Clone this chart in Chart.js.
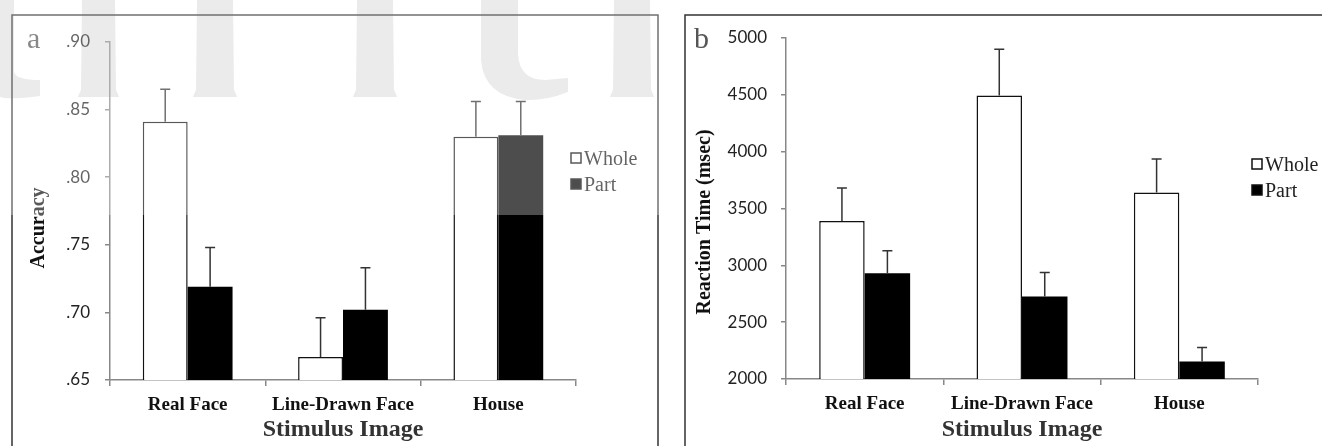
<!DOCTYPE html>
<html>
<head>
<meta charset="utf-8">
<script src="https://cdn.jsdelivr.net/npm/chart.js@4.4.1/dist/chart.umd.min.js"></script>
<style>
  body { margin: 0; background: #fff; }
  #panelA { position: absolute; left: 0; top: 0; }
  #panelB { position: absolute; left: 662px; top: 0; }
</style>
</head>
<body>
<canvas id="panelA" width="662" height="446"></canvas>
<canvas id="panelB" width="660" height="446"></canvas>
<script>
// stimulus categories and the two conditions
var categories = ['Real Face', 'Line-Drawn Face', 'House'];
var seriesNames = ['Whole', 'Part'];

// panel a: accuracy (mean + error)
var accWhole = [0.841, 0.667, 0.830];
var accWholeErr = [0.024, 0.029, 0.026];
var accPart = [0.719, 0.702, 0.831];
var accPartErr = [0.029, 0.031, 0.025];
var accMin = 0.65, accMax = 0.90, accStep = 0.05;

// panel b: reaction time in msec
var rtWhole = [3390, 4495, 3640];
var rtWholeErr = [290, 405, 296];
var rtPart = [2930, 2725, 2155];
var rtPartErr = [198, 213, 123];
var rtMin = 2000, rtMax = 5000, rtStep = 500;

var serif = '"Liberation Serif", "Times New Roman", serif';
var sans = 'Lato, "Open Sans", sans-serif';

// light watermark strokes seen over the top of panel a
function drawWatermark(ctx) {
  ctx.fillStyle = '#e2e2e2';
  ctx.beginPath();
  ctx.moveTo(0, 0); ctx.lineTo(14, 0); ctx.lineTo(14, 72);
  ctx.quadraticCurveTo(16, 80, 40, 80); ctx.lineTo(40, 96);
  ctx.quadraticCurveTo(10, 100, 0, 97); ctx.closePath(); ctx.fill();
  [[80, 117], [195, 235], [355, 395], [612, 652]].forEach(function(s) {
    ctx.beginPath();
    ctx.moveTo(s[0] + 2, 0); ctx.lineTo(s[1] - 2, 0); ctx.lineTo(s[1] - 1, 90);
    ctx.quadraticCurveTo(s[1] + 2, 96, s[1] + 2, 97);
    ctx.lineTo(s[0] - 2, 97); ctx.quadraticCurveTo(s[0] - 2, 96, s[0] + 1, 90);
    ctx.closePath(); ctx.fill();
  });
  ctx.beginPath();
  ctx.moveTo(481, 0); ctx.lineTo(518, 0); ctx.lineTo(518, 55);
  ctx.quadraticCurveTo(520, 80, 545, 80); ctx.lineTo(568, 78);
  ctx.lineTo(568, 92); ctx.quadraticCurveTo(545, 101, 525, 100);
  ctx.quadraticCurveTo(484, 96, 481, 60); ctx.closePath(); ctx.fill();
}

var panelDecor = {
  id: 'panelDecor',
  beforeDraw: function(chart, args, o) {
    var ctx = chart.ctx;
    ctx.save();
    if (o.watermark) drawWatermark(ctx);
    ctx.strokeStyle = '#333';
    ctx.lineWidth = 1.5;
    ctx.strokeRect(o.frame[0], o.frame[1], o.frame[2], o.frame[3]);
    ctx.fillStyle = '#555';
    ctx.font = '30px ' + serif;
    ctx.textBaseline = 'alphabetic';
    ctx.fillText(o.letter, o.letterPos[0], o.letterPos[1]);
    ctx.translate(o.titlePos[0], o.titlePos[1]);
    ctx.rotate(-Math.PI / 2);
    ctx.fillStyle = '#111';
    ctx.font = 'bold 20px ' + serif;
    ctx.textAlign = 'center';
    ctx.textBaseline = 'middle';
    ctx.fillText(o.title, 0, 0);
    ctx.restore();
  },
  afterDraw: function(chart, args, o) {
    if (!o.watermark) return;
    var ctx = chart.ctx;
    ctx.save();
    ctx.fillStyle = 'rgba(255,255,255,0.3)';
    ctx.fillRect(0, 0, chart.width, 215);
    ctx.restore();
  }
};

var errorBars = {
  id: 'errorBars',
  afterDatasetsDraw: function(chart) {
    var ctx = chart.ctx, yScale = chart.scales.y;
    ctx.save();
    ctx.strokeStyle = '#333';
    ctx.lineWidth = 1.5;
    chart.data.datasets.forEach(function(ds, di) {
      chart.getDatasetMeta(di).data.forEach(function(bar, i) {
        var top = yScale.getPixelForValue(ds.data[i] + ds.errors[i]);
        ctx.beginPath();
        ctx.moveTo(bar.x, bar.y);
        ctx.lineTo(bar.x, top);
        ctx.moveTo(bar.x - 5, top);
        ctx.lineTo(bar.x + 5, top);
        ctx.stroke();
      });
    });
    ctx.restore();
  }
};

var keyBox = {
  id: 'keyBox',
  afterDatasetsDraw: function(chart, args, o) {
    var ctx = chart.ctx;
    ctx.save();
    ctx.font = '20px ' + serif;
    ctx.textBaseline = 'alphabetic';
    chart.data.datasets.forEach(function(ds, i) {
      var y = o.y + i * 26;
      ctx.fillStyle = ds.backgroundColor;
      ctx.fillRect(o.x, y, 10, 10);
      ctx.strokeStyle = '#111';
      ctx.lineWidth = 1.5;
      ctx.strokeRect(o.x, y, 10, 10);
      ctx.fillStyle = '#222';
      ctx.fillText(ds.label, o.x + 13, y + 12);
    });
    ctx.restore();
  }
};

function makeChart(id, whole, wholeErr, part, partErr, lo, hi, step, fmt, box) {
  return new Chart(document.getElementById(id), {
    type: 'bar',
    data: {
      labels: categories,
      datasets: [
        { label: seriesNames[0], data: whole, errors: wholeErr, backgroundColor: '#ffffff',
          borderColor: '#111', borderWidth: 1.5 },
        { label: seriesNames[1], data: part, errors: partErr, backgroundColor: '#000000',
          borderColor: '#000', borderWidth: 0 }
      ]
    },
    plugins: [panelDecor, errorBars, keyBox],
    options: {
      responsive: false,
      animation: false,
      devicePixelRatio: 1,
      categoryPercentage: 0.578,
      barPercentage: 1,
      layout: { padding: box.padding },
      plugins: {
        legend: { display: false },
        tooltip: { enabled: false },
        panelDecor: box.decor,
        keyBox: box.key
      },
      scales: {
        x: {
          grid: { offset: true, drawOnChartArea: false, tickLength: 6, color: '#888', lineWidth: 1.5 },
          border: { color: '#888', width: 1.5 },
          ticks: { color: '#111', padding: 8, font: { family: serif, size: 19, weight: 'bold' } },
          title: { display: true, text: 'Stimulus Image', color: '#333',
                   font: { family: serif, size: 24, weight: 'bold' }, padding: { top: 0, bottom: 2 } },
          afterFit: function(s) { s.height = box.xHeight; }
        },
        y: {
          min: lo, max: hi,
          grid: { drawOnChartArea: false, tickLength: 5, color: '#888', lineWidth: 1.5 },
          border: { color: '#888', width: 1.5 },
          ticks: { stepSize: step, color: '#222', padding: box.tickPad,
                   font: { family: sans, size: 17 }, callback: fmt },
          afterFit: function(s) { s.width = box.yWidth; }
        }
      }
    }
  });
}

makeChart('panelA', accWhole, accWholeErr, accPart, accPartErr, accMin, accMax, accStep,
  function(v) { return v.toFixed(2).replace(/^0/, ''); },
  { padding: { left: 0, right: 86, top: 42, bottom: 0 }, xHeight: 66, yWidth: 110, tickPad: 15,
    decor: { watermark: true, frame: [12, 15, 646, 500], letter: 'a', letterPos: [27, 48],
             title: 'Accuracy', titlePos: [39, 228] },
    key: { x: 571, y: 153 } });

makeChart('panelB', rtWhole, rtWholeErr, rtPart, rtPartErr, rtMin, rtMax, rtStep,
  function(v) { return String(v); },
  { padding: { left: 0, right: 64, top: 38, bottom: 0 }, xHeight: 67, yWidth: 124, tickPad: 14,
    decor: { watermark: false, frame: [23, 15, 700, 500], letter: 'b', letterPos: [32, 48],
             title: 'Reaction Time (msec)', titlePos: [43, 222] },
    key: { x: 590, y: 159 } });
</script>
</body>
</html>
